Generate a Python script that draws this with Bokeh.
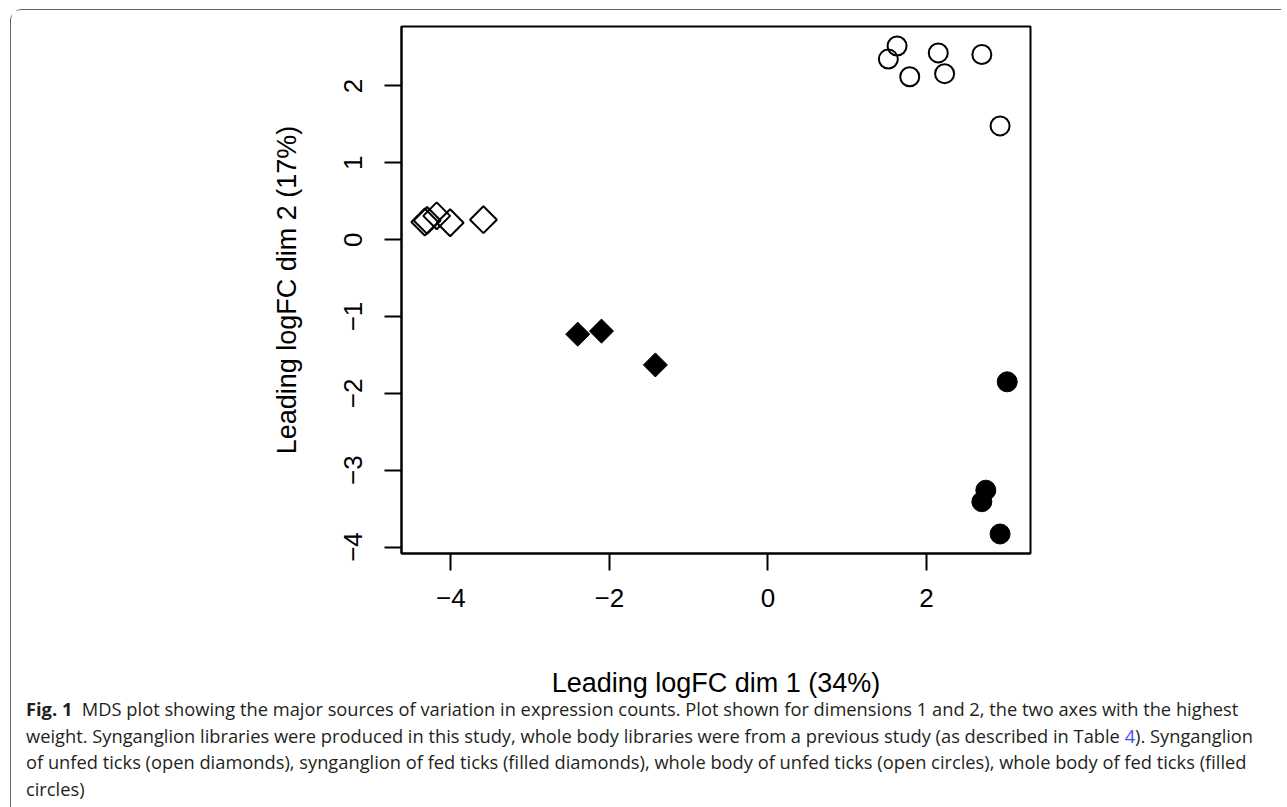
import math
from bokeh.plotting import figure
from bokeh.models import Range1d, FixedTicker, Div
from bokeh.layouts import column
from bokeh.embed import file_html
from bokeh.resources import INLINE

# ---- data ----
sg_unfed_x = [-4.33, -4.30, -4.18, -4.01, -3.59]
sg_unfed_y = [0.23, 0.25, 0.31, 0.22, 0.26]
sg_fed_x = [-2.40, -2.10, -1.42]
sg_fed_y = [-1.23, -1.19, -1.63]
wb_unfed_x = [1.63, 1.52, 1.79, 2.15, 2.23, 2.70, 2.93]
wb_unfed_y = [2.52, 2.35, 2.12, 2.43, 2.16, 2.41, 1.48]
wb_fed_x = [3.02, 2.75, 2.70, 2.93]
wb_fed_y = [-1.85, -3.26, -3.41, -3.83]
x_ticks = [-4, -2, 0, 2]
y_ticks = [-4, -3, -2, -1, 0, 1, 2]
x_label = "Leading logFC dim 1 (34%)"
y_label = "Leading logFC dim 2 (17%)"

caption_lines = [
    "<b>Fig. 1</b>&nbsp; MDS plot showing the major sources of variation in expression counts. Plot shown for dimensions 1 and 2, the two axes with the highest",
    "weight. Synganglion libraries were produced in this study, whole body libraries were from a previous study (as described in Table <span style='color:#4a4af0'>4</span>). Synganglion",
    "of unfed ticks (open diamonds), synganglion of fed ticks (filled diamonds), whole body of unfed ticks (open circles), whole body of fed ticks (filled",
    "circles)",
]

# R-style 4% range expansion
all_x = sg_unfed_x + sg_fed_x + wb_unfed_x + wb_fed_x
all_y = sg_unfed_y + sg_fed_y + wb_unfed_y + wb_fed_y
def expand(vals):
    lo, hi = min(vals), max(vals)
    pad = 0.04 * (hi - lo)
    return lo - pad, hi + pad

xr = expand(all_x)
yr = expand(all_y)

FONT = "Liberation Sans"

p = figure(width=1260, height=698, x_range=Range1d(*xr), y_range=Range1d(*yr),
           output_backend="svg", toolbar_location=None,
           min_border_left=390, min_border_right=241, min_border_top=16, min_border_bottom=155,
           background_fill_color="white", border_fill_color="white")
p.xgrid.visible = False
p.ygrid.visible = False
p.outline_line_color = "black"
p.outline_line_width = 2

for ax, ticks in ((p.xaxis, x_ticks), (p.yaxis, y_ticks)):
    ax.ticker = FixedTicker(ticks=ticks)
    ax.minor_tick_line_color = None
    ax.major_tick_in = 0
    ax.major_tick_out = 17
    ax.major_tick_line_width = 2
    ax.major_tick_line_color = "black"
    ax.axis_line_width = 2
    ax.axis_line_color = "black"
    ax.major_label_text_font = FONT
    ax.major_label_text_font_size = "26px"
    ax.major_label_text_color = "black"
    ax.axis_label_text_font = FONT
    ax.axis_label_text_font_size = "27px"
    ax.axis_label_text_font_style = "normal"
    ax.axis_label_text_color = "black"

p.xaxis.axis_label = x_label
p.yaxis.axis_label = y_label
p.xaxis.major_label_standoff = 18
p.xaxis.axis_label_standoff = 58
p.yaxis.major_label_orientation = "vertical"
p.yaxis.major_label_standoff = 22
p.yaxis.axis_label_standoff = 40

# synganglion, unfed: open diamonds
p.scatter(sg_unfed_x, sg_unfed_y, marker="square", angle=math.pi / 4, size=19,
          fill_color=None, line_color="black", line_width=2)
# synganglion, fed: filled diamonds
p.scatter(sg_fed_x, sg_fed_y, marker="square", angle=math.pi / 4, size=17,
          fill_color="black", line_color="black", line_width=1)
# whole body, unfed: open circles
p.scatter(wb_unfed_x, wb_unfed_y, marker="circle", size=19,
          fill_color=None, line_color="black", line_width=2)
# whole body, fed: filled circles
p.scatter(wb_fed_x, wb_fed_y, marker="circle", size=20,
          fill_color="black", line_color="black", line_width=1)

cap_html = ("<div style=\"margin-left:10px; margin-top:-17px; font-family:'Open Sans'; font-size:18.3px; "
            "line-height:26.5px; color:#231f20; white-space:nowrap;\">"
            + "<br>".join(caption_lines) + "</div>")
cap = Div(text=cap_html, width=1260, height=97)

layout = column(p, cap, styles={"border-top": "1px solid #666", "border-left": "1px solid #666",
                                "border-top-left-radius": "12px", "margin-left": "10px",
                                "margin-top": "9px"})

open("out.html", "w").write(file_html(layout, INLINE))
